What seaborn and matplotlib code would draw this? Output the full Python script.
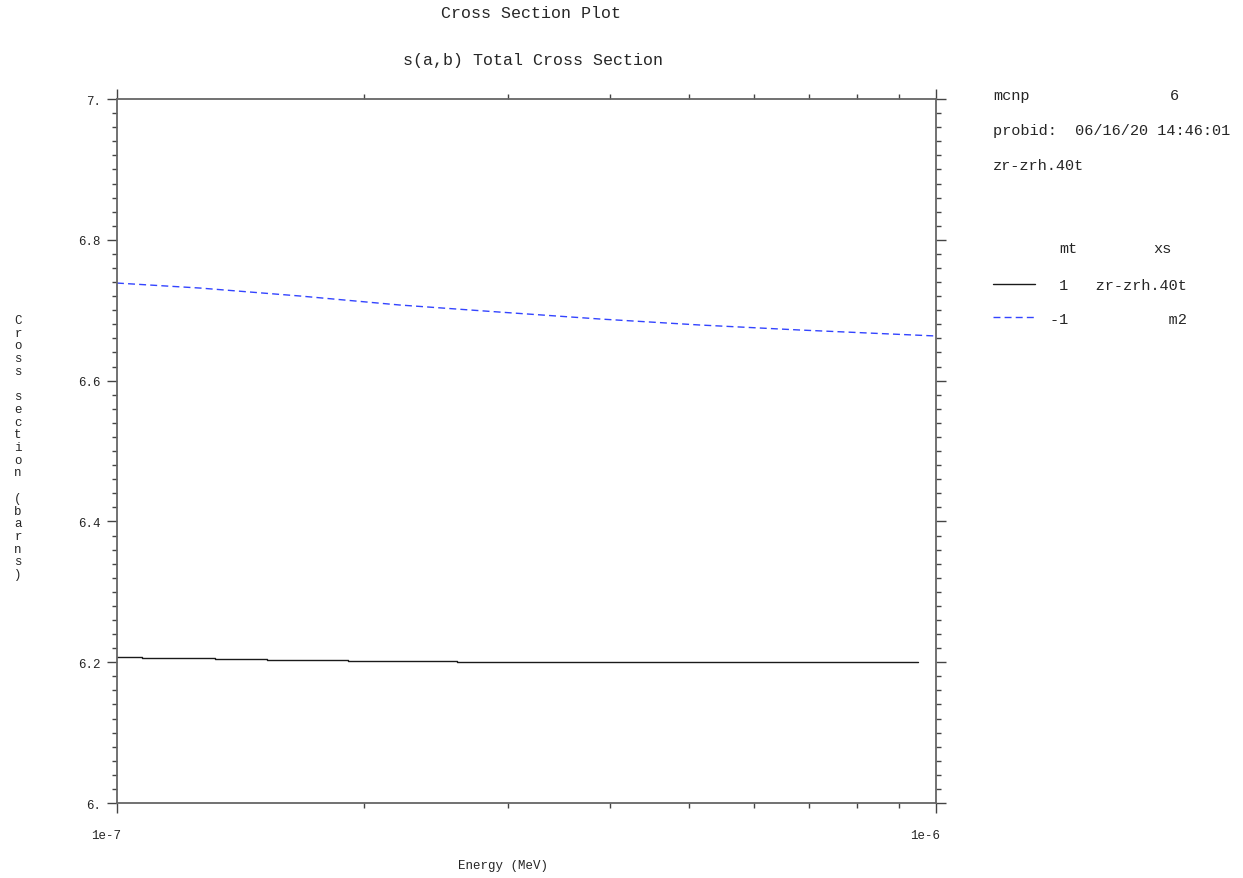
import seaborn as sns
import matplotlib.pyplot as plt
from matplotlib.ticker import MultipleLocator, LogLocator, NullFormatter
from matplotlib.transforms import ScaledTranslation

sns.set_style('ticks')
plt.rcParams['font.family'] = ['Liberation Mono', 'DejaVu Sans Mono']

# mt 1, zr-zrh.40t (step data)
mt1_energy = [1.0e-7, 1.073e-7, 1.154e-7, 1.317e-7, 1.525e-7, 1.915e-7,
              2.60e-7, 4.76e-7, 9.51e-7]
mt1_xs = [6.2080, 6.2066, 6.2054, 6.2043, 6.2032, 6.2021, 6.2010, 6.2000,
          6.2000]

# mt -1, m2
m2_energy = [1.0e-7, 1.263e-7, 1.673e-7, 2.215e-7, 2.93e-7, 3.89e-7,
             5.15e-7, 6.82e-7, 1.0e-6]
m2_xs = [6.7386, 6.7315, 6.7202, 6.7074, 6.6974, 6.6875, 6.6790, 6.6719,
         6.6634]

y_ticks = [6.0, 6.2, 6.4, 6.6, 6.8, 7.0]
y_tick_labels = ['6.', '6.2', '6.4', '6.6', '6.8', '7.']
x_ticks = [1e-7, 1e-6]
x_tick_labels = ['1e-7', '1e-6']

legend_labels = [' 1   zr-zrh.40t', '-1           m2']


def px(x, y):
    return x / 1243, 1 - y / 879


fig = plt.figure(figsize=(12.43, 8.79), dpi=100)
ax = fig.add_axes([0.0941, 0.0853, 0.6589, 0.8009])

sns.lineplot(x=mt1_energy, y=mt1_xs, ax=ax, color='#1a1a1a', lw=1,
             drawstyle='steps-post')
sns.lineplot(x=m2_energy, y=m2_xs, ax=ax, color='#3344ff', lw=1,
             linestyle=(0, (5, 3)))

ax.set_xscale('log')
ax.set_xlim(1e-7, 1e-6)
ax.set_ylim(6, 7)
ax.set_xticks(x_ticks, x_tick_labels)
ax.xaxis.set_minor_locator(LogLocator(base=10, subs=range(2, 10)))
ax.xaxis.set_minor_formatter(NullFormatter())
ax.set_yticks(y_ticks, y_tick_labels)
ax.yaxis.set_minor_locator(MultipleLocator(0.02))

for side in ax.spines.values():
    side.set_color('#666666')
    side.set_linewidth(1.3)

ax.tick_params(which='both', direction='out', top=True, right=True,
               color='#444444', width=1, labelsize=9)
ax.tick_params(which='major', length=7.2)
ax.tick_params(which='minor', length=3.6)
ax.tick_params(axis='y', which='major', pad=4.3)
ax.tick_params(axis='x', which='major', pad=11.5)

shift = ScaledTranslation(-0.11, 0, fig.dpi_scale_trans)
for lab in ax.get_xticklabels():
    lab.set_transform(lab.get_transform() + shift)

ax.set_xlabel('')
ax.set_ylabel('')

# titles and axis labels
fig.text(*px(531, 14), 'Cross Section Plot', ha='center', va='center',
         fontsize=12)
fig.text(*px(533, 60), 's(a,b) Total Cross Section', ha='center',
         va='center', fontsize=12)
fig.text(*px(503, 866), 'Energy (MeV)', ha='center', va='center',
         fontsize=9)
fig.text(*px(18, 448), '\n'.join('Cross section (barns)'), ha='center',
         va='center', fontsize=9, linespacing=1.08)

# info block on the right
fig.text(*px(993, 96), 'mcnp', ha='left', va='center', fontsize=11)
fig.text(*px(1174, 96), '6', ha='center', va='center', fontsize=11)
fig.text(*px(993, 131), 'probid:  06/16/20 14:46:01', ha='left',
         va='center', fontsize=11)
fig.text(*px(993, 166), 'zr-zrh.40t', ha='left', va='center', fontsize=11)
fig.text(*px(1059, 249), 'mt', ha='left', va='center', fontsize=11)
fig.text(*px(1153, 249), 'xs', ha='left', va='center', fontsize=11)

fig.legend(handles=ax.get_lines()[:2], labels=legend_labels,
           loc='upper left', bbox_to_anchor=px(993, 279), frameon=False,
           fontsize=11, handlelength=2.75, handletextpad=0.98,
           labelspacing=1.28, borderpad=0, borderaxespad=0)

fig.savefig('out.png', dpi=100)
